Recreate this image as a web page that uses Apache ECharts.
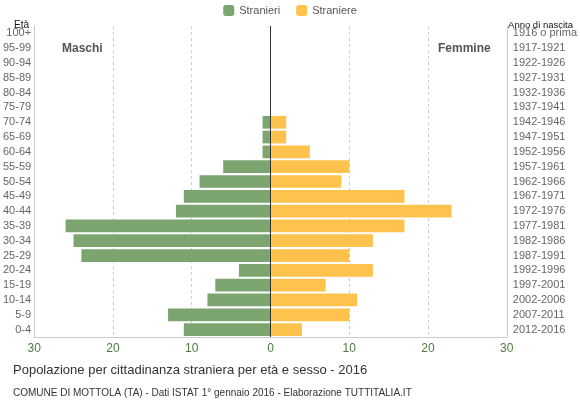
<!DOCTYPE html>
<html>
<head>
<meta charset="utf-8">
<script src="https://cdn.jsdelivr.net/npm/echarts@6/dist/echarts.min.js"></script>
<style>html,body{margin:0;padding:0;background:#fff}#c{width:580px;height:400px}</style>
</head>
<body>
<div id="c"></div>
<script>
const ageGroups = ['0-4','5-9','10-14','15-19','20-24','25-29','30-34','35-39','40-44','45-49','50-54','55-59','60-64','65-69','70-74','75-79','80-84','85-89','90-94','95-99','100+'];
const birthYears = ['2012-2016','2007-2011','2002-2006','1997-2001','1992-1996','1987-1991','1982-1986','1977-1981','1972-1976','1967-1971','1962-1966','1957-1961','1952-1956','1947-1951','1942-1946','1937-1941','1932-1936','1927-1931','1922-1926','1917-1921','1916 o prima'];
const maschi = [11,13,8,7,4,24,25,26,12,11,9,6,1,1,1,0,0,0,0,0,0];
const femmine = [4,10,11,7,13,10,13,17,23,17,9,10,5,2,2,0,0,0,0,0,0];

const chart = echarts.init(document.getElementById('c'), null, {renderer:'canvas'});
const F = 'Liberation Sans, Arial, sans-serif';
chart.setOption({
  animation:false,
  textStyle:{fontFamily:F},
  legend:{
    top:0, left:'center', itemWidth:11, itemHeight:11, itemGap:16,
    textStyle:{color:'#555', fontSize:11, fontFamily:F},
    data:['Stranieri','Straniere']
  },
  title:[
    {text:'Popolazione per cittadinanza straniera per età e sesso - 2016', left:8, top:359,
     textStyle:{fontSize:13, fontWeight:'normal', color:'#333', fontFamily:F}},
    {text:'COMUNE DI MOTTOLA (TA) - Dati ISTAT 1° gennaio 2016 - Elaborazione TUTTITALIA.IT', left:8, top:383,
     textStyle:{fontSize:10, fontWeight:'normal', color:'#333', fontFamily:F}},
    {text:'Età', left:9, top:15, textStyle:{fontSize:10, fontWeight:'normal', color:'#111', fontFamily:F}},
    {text:'Anno di nascita', right:2, top:15, textStyle:{fontSize:9.5, fontWeight:'normal', color:'#111', fontFamily:F}},
    {text:'Maschi', left:57, top:38, textStyle:{fontSize:12, fontWeight:'bold', color:'#555', fontFamily:F}},
    {text:'Femmine', left:433, top:38, textStyle:{fontSize:12, fontWeight:'bold', color:'#555', fontFamily:F}}
  ],
  grid:{left:33, right:69, top:26, bottom:63, containLabel:false},
  xAxis:{
    type:'value', min:-30, max:30, interval:10,
    axisLine:{show:true, onZero:false, lineStyle:{color:'#ccc'}},
    axisTick:{show:false},
    axisLabel:{color:'#4d7a3f', fontSize:12, fontFamily:F, margin:6, formatter:v=>Math.abs(v)},
    splitLine:{show:true, lineStyle:{color:'#ccc', type:[3,3], width:1}}
  },
  yAxis:[
    {type:'category', data:ageGroups, position:'left',
     axisLine:{show:true, onZero:false, lineStyle:{color:'#ccc'}},
     axisTick:{show:false},
     axisLabel:{color:'#666', fontSize:11, fontFamily:F, margin:3, interval:0},
     splitLine:{show:false}},
    {type:'category', data:birthYears, position:'right',
     axisLine:{show:true, onZero:false, lineStyle:{color:'#ccc'}},
     axisTick:{show:false},
     axisLabel:{color:'#666', fontSize:11, fontFamily:F, margin:6, interval:0},
     splitLine:{show:false}}
  ],
  series:[
    {name:'Stranieri', type:'bar', yAxisIndex:0, data:maschi.map(v=>-v),
     itemStyle:{color:'#7ba46f'}, barCategoryGap:'14%', barGap:'-100%',
     markLine:{silent:true, symbol:'none', label:{show:false},
       lineStyle:{color:'#333', type:'solid', width:1}, data:[{xAxis:0}]}},
    {name:'Straniere', type:'bar', yAxisIndex:0, data:femmine,
     itemStyle:{color:'#ffc24c'}, barCategoryGap:'14%', barGap:'-100%'}
  ]
});
</script>
</body>
</html>
